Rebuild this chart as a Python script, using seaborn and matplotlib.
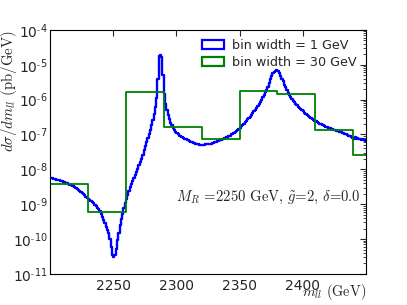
import numpy as np
import pandas as pd
import matplotlib
matplotlib.use("Agg")
import matplotlib.pyplot as plt
import seaborn as sns
from matplotlib.patches import Patch
from matplotlib.ticker import FuncFormatter, LogLocator, NullFormatter

# ---- data ----
# 1 GeV bins, 2200 .. 2450 GeV, log10 of dsigma/dm (pb/GeV)
fine_start = 2200
fine_log10 = [
    -8.25, -8.26, -8.27, -8.28, -8.29, -8.30, -8.31, -8.32, -8.33, -8.34,
    -8.36, -8.37, -8.39, -8.40, -8.42, -8.44, -8.45, -8.47, -8.49, -8.51,
    -8.54, -8.56, -8.59, -8.62, -8.65, -8.69, -8.72, -8.75, -8.78, -8.81,
    -8.84, -8.87, -8.90, -8.93, -8.97, -9.01, -9.05, -9.10, -9.15, -9.21,
    -9.28, -9.36, -9.45, -9.55, -9.65, -9.74, -9.83, -10.00, -10.22, -10.45,
    -10.52, -10.45, -10.28, -10.02, -9.82, -9.60, -9.42, -9.27, -9.11, -8.97,
    -8.86, -8.74, -8.62, -8.52, -8.42, -8.33, -8.24, -8.15, -8.08, -7.98,
    -7.88, -7.79, -7.70, -7.58, -7.46, -7.34, -7.22, -7.10, -6.99, -6.88,
    -6.74, -6.58, -6.42, -6.22, -5.95, -5.40, -4.75, -4.73, -4.78, -5.30,
    -5.85, -6.12, -6.30, -6.45, -6.56, -6.66, -6.74, -6.81, -6.87, -6.92,
    -6.96, -7.00, -7.03, -7.05, -7.08, -7.10, -7.12, -7.14, -7.16, -7.17,
    -7.20, -7.21, -7.22, -7.25, -7.24, -7.27, -7.28, -7.27, -7.30, -7.29,
    -7.30, -7.29, -7.30, -7.28, -7.28, -7.27, -7.26, -7.27, -7.25, -7.24,
    -7.23, -7.22, -7.20, -7.18, -7.17, -7.15, -7.13, -7.12, -7.10, -7.08,
    -7.06, -7.05, -7.03, -7.00, -6.98, -6.95, -6.93, -6.90, -6.87, -6.84,
    -6.81, -6.77, -6.73, -6.69, -6.65, -6.61, -6.57, -6.53, -6.49, -6.44,
    -6.39, -6.34, -6.29, -6.23, -6.17, -6.12, -6.06, -6.00, -5.93, -5.86,
    -5.79, -5.72, -5.63, -5.53, -5.42, -5.32, -5.25, -5.20, -5.17, -5.16,
    -5.19, -5.25, -5.32, -5.40, -5.48, -5.57, -5.65, -5.73, -5.80, -5.87,
    -5.93, -5.98, -6.03, -6.07, -6.12, -6.16, -6.20, -6.24, -6.27, -6.31,
    -6.34, -6.38, -6.41, -6.44, -6.47, -6.50, -6.53, -6.55, -6.58, -6.60,
    -6.62, -6.64, -6.67, -6.69, -6.71, -6.73, -6.74, -6.76, -6.78, -6.79,
    -6.81, -6.82, -6.84, -6.85, -6.86, -6.88, -6.89, -6.90, -6.91, -6.92,
    -6.94, -6.95, -6.96, -6.98, -6.99, -7.01, -7.03, -7.05, -7.08, -7.10,
    -7.12, -7.08, -7.13, -7.10, -7.14, -7.13, -7.15, -7.14, -7.17, -7.18,
]
fine_width = 1

# 30 GeV bins starting at 2200 GeV
coarse_start = 2200
coarse_width = 30
coarse_values = [3.7e-9, 6.0e-10, 1.7e-6, 1.68e-7, 7.3e-8, 1.8e-6, 1.43e-6, 1.35e-7, 2.5e-8]

legend_labels = ["bin width = 1 GeV", "bin width = 30 GeV"]
xticks = [2250, 2300, 2350, 2400]
annotation = r"$M_R$ =2250 GeV, $\tilde{g}$=2, $\delta$=0.0"
xlabel = r"$m_{ll}$ (GeV)"
ylabel = r"$d\sigma/dm_{ll}$ (pb/GeV)"

# ---- build tables ----
n_fine = len(fine_log10)
fine = pd.DataFrame({"m": fine_start + fine_width * (np.arange(n_fine) + 0.5),
                     "w": 10.0 ** np.array(fine_log10)})
n_coarse = len(coarse_values)
coarse = pd.DataFrame({"m": coarse_start + coarse_width * (np.arange(n_coarse) + 0.5),
                       "w": coarse_values})

sns.set_style("white")
plt.rcParams["font.family"] = ["DejaVu Sans"]
plt.rcParams["mathtext.fontset"] = "cm"
plt.rcParams["xtick.direction"] = "in"
plt.rcParams["ytick.direction"] = "in"
plt.rcParams["axes.formatter.use_mathtext"] = False

fig = plt.figure(figsize=(4.07, 3.05), dpi=100)
ax = fig.add_axes([0.123, 0.102, 0.776, 0.80])
ax.set_yscale("log")

sns.histplot(data=fine, x="m", weights="w", binwidth=fine_width,
             binrange=(fine_start, fine_start + fine_width * n_fine),
             element="step", fill=False, color="#0000ff", linewidth=1.7, ax=ax)
sns.histplot(data=coarse, x="m", weights="w", binwidth=coarse_width,
             binrange=(coarse_start, coarse_start + coarse_width * n_coarse),
             element="step", fill=False, color="#008000", linewidth=1.3, ax=ax)

ax.set_xlim(2200, 2450)
ax.set_ylim(1e-11, 1e-4)
ax.set_xticks(xticks)
ax.set_xticklabels([str(t) for t in xticks])


def log_fmt(v, pos):
    e = int(round(np.log10(v)))
    if e < 0:
        return r"$\mathdefault{10^{\text{-}%d}}$" % (-e)
    return r"$\mathdefault{10^{%d}}$" % e


ax.yaxis.set_major_formatter(FuncFormatter(log_fmt))
ax.yaxis.set_minor_locator(LogLocator(base=10, subs=np.arange(2, 10), numticks=20))
ax.yaxis.set_minor_formatter(NullFormatter())
ax.tick_params(axis="both", which="both", top=True, right=True, labelsize=10)
ax.tick_params(axis="y", which="major", pad=2)
ax.tick_params(which="major", length=4)
ax.tick_params(which="minor", length=2)
for s in ax.spines.values():
    s.set_linewidth(0.8)
    s.set_color("black")

ax.set_xlabel(xlabel, fontsize=10.3, ha="right", va="baseline", family="cmr10")
ax.xaxis.set_label_coords(1.0, -0.09)
ax.set_ylabel(ylabel, fontsize=10.7, ha="right", va="center", family="cmr10")
ax.yaxis.set_label_coords(-0.13, 1.0)

ax.text(0.985, 0.30, annotation, transform=ax.transAxes, ha="right", va="baseline",
        fontsize=10.6, family="cmr10")

handles = [Patch(facecolor="none", edgecolor="#0000ff", linewidth=1.6),
           Patch(facecolor="none", edgecolor="#008000", linewidth=1.6)]
ax.legend(handles, legend_labels, loc="upper right", frameon=False, fontsize=9.2,
          handlelength=1.75, handletextpad=0.65, borderaxespad=0.3, labelspacing=0.35)

fig.savefig("out.png", dpi=100)
